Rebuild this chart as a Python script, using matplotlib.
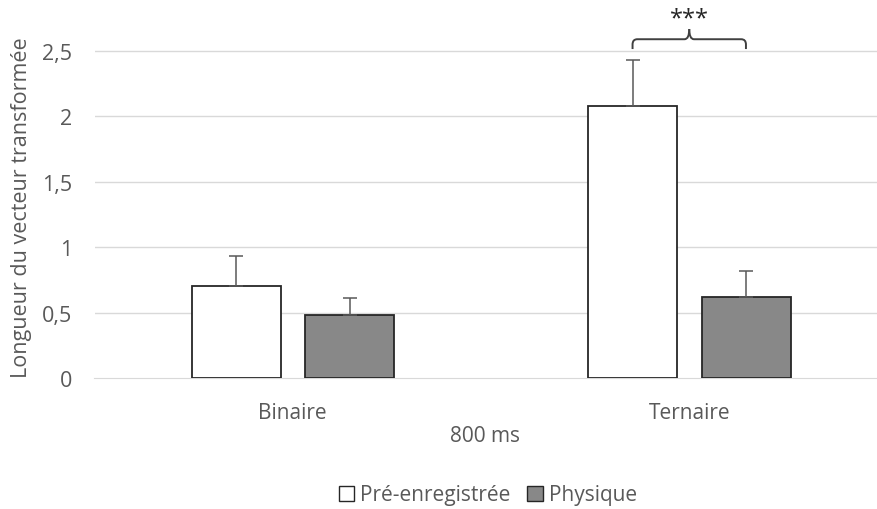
import matplotlib
matplotlib.use("Agg")
import matplotlib.pyplot as plt
import numpy as np
from matplotlib.path import Path
from matplotlib.patches import PathPatch, Patch

categories = ["Binaire", "Ternaire"]
series_names = ["Pré-enregistrée", "Physique"]
pre_values = [0.70, 2.08]
pre_errors = [0.23, 0.35]
phys_values = [0.48, 0.62]
phys_errors = [0.13, 0.20]
y_ticks = [0, 0.5, 1, 1.5, 2, 2.5]
y_tick_labels = ["0", "0,5", "1", "1,5", "2", "2,5"]
x_title = "800 ms"
y_title = "Longueur du vecteur transformée"
signif = "***"

plt.rcParams['font.family'] = ['Open Sans', 'DejaVu Sans']
txt = "#595959"

fig = plt.figure(figsize=(8.77, 5.10), dpi=100)
W, H = 877, 510
ax = fig.add_axes([94.5 / W, 1 - 379 / H, 1 - 94.5 / W, (379 - 10) / H])

ppu = 396.5
bw = 89 / ppu
off = (113.5 / 2) / ppu
x = np.arange(len(categories))

ax.bar(x - off, pre_values, width=bw, color="white", edgecolor="#262626", linewidth=1.3, zorder=3)
ax.bar(x + off, phys_values, width=bw, color="#888888", edgecolor="#262626", linewidth=1.3, zorder=3)
ax.errorbar(x - off, pre_values, yerr=[np.zeros(2), pre_errors], fmt="none",
            ecolor="#595959", elinewidth=1.1, capsize=5, capthick=1.1, zorder=4)
ax.errorbar(x + off, phys_values, yerr=[np.zeros(2), phys_errors], fmt="none",
            ecolor="#595959", elinewidth=1.1, capsize=5, capthick=1.1, zorder=4)

ax.set_xlim(-0.5, -0.5 + (877 - 94.5) / ppu)
ax.set_ylim(0, (379 - 10) / 130.8)
ax.set_yticks(y_ticks)
ax.set_yticklabels(y_tick_labels, fontsize=15.5, color=txt)
ax.set_xticks(x)
ax.set_xticklabels(categories, fontsize=15, color=txt)
ax.tick_params(axis="both", length=0)
ax.tick_params(axis="y", pad=16)
ax.tick_params(axis="x", pad=17)
for yt in y_ticks[1:]:
    ax.axhline(yt, color="#d9d9d9", linewidth=1, zorder=1)
for s in ["top", "right", "left"]:
    ax.spines[s].set_visible(False)
ax.spines["bottom"].set_color("#d9d9d9")
ax.spines["bottom"].set_zorder(2)

fig.text(22 / W, 1 - 208 / H, y_title, fontsize=15.5, color=txt, rotation=90,
         ha="center", va="center")
fig.text(485 / W, 1 - 437 / H, x_title, fontsize=15, color=txt, ha="center", va="center")

# significance bracket
cx = 1.0
xl, xr = cx - 0.143, cx + 0.143
yb, ym, yt = 2.515, 2.59, 2.668
r = 0.012
verts = [(xl, yb), (xl, ym - 0.04), (xl, ym), (xl + r, ym), (cx - r, ym), (cx, ym), (cx, yt)]
codes = [Path.MOVETO, Path.LINETO, Path.CURVE3, Path.CURVE3, Path.LINETO, Path.CURVE3, Path.CURVE3]
ax.add_patch(PathPatch(Path(verts, codes), fill=False, edgecolor="#404040", linewidth=1.4, zorder=5))
verts = [(xr, yb), (xr, ym - 0.04), (xr, ym), (xr - r, ym), (cx + r, ym), (cx, ym), (cx, yt)]
ax.add_patch(PathPatch(Path(verts, codes), fill=False, edgecolor="#404040", linewidth=1.4, zorder=5))
ax.text(cx, 2.75, signif, ha="center", va="center", fontsize=17, color="#262626")

handles = [Patch(facecolor="white", edgecolor="#262626", linewidth=1.0),
           Patch(facecolor="#888888", edgecolor="#262626", linewidth=1.0)]
fig.legend(handles, series_names, loc="center", bbox_to_anchor=(488 / W, 1 - 496 / H),
           ncol=2, frameon=False, fontsize=15, labelcolor=txt, handlelength=0.75,
           handleheight=0.75, handletextpad=0.3, columnspacing=0.8)

fig.savefig("out.png", dpi=100)
